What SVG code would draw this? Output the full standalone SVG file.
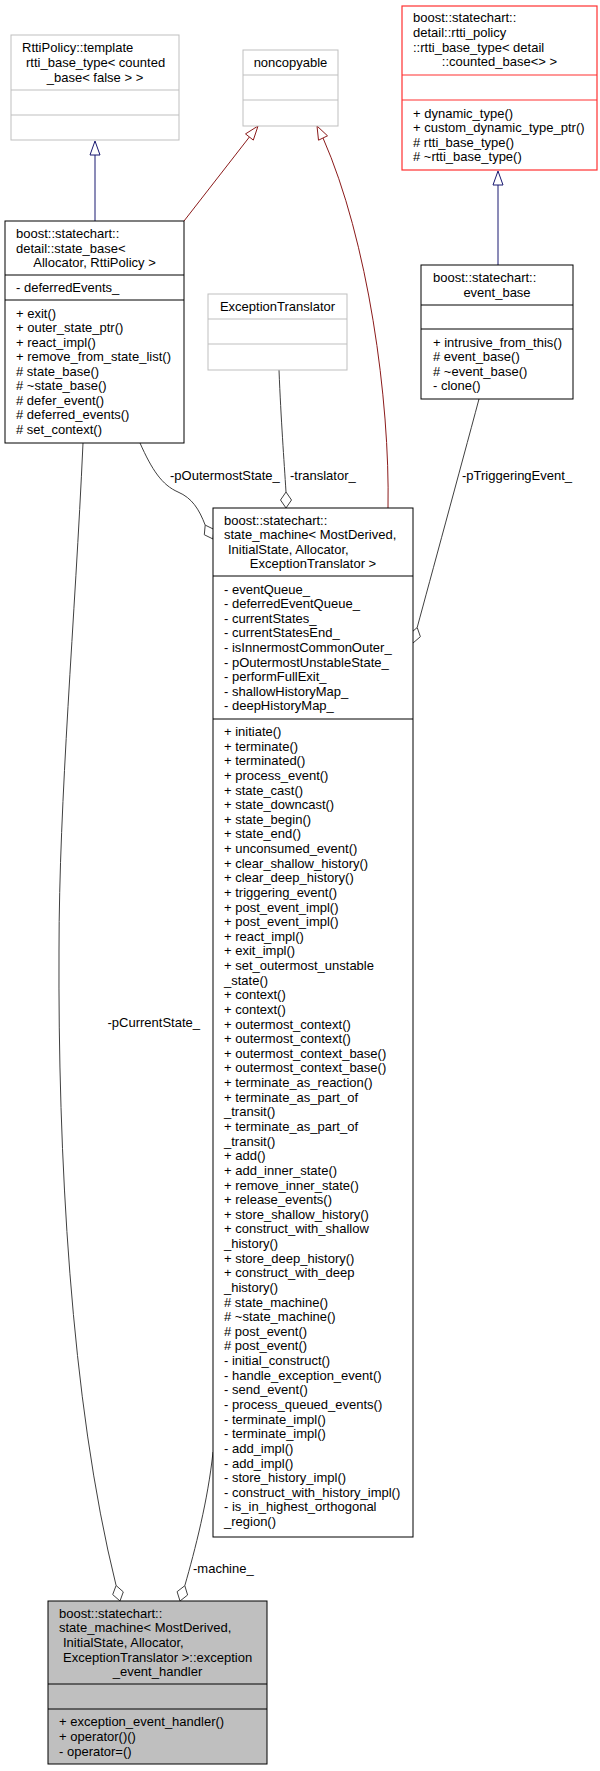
<svg xmlns="http://www.w3.org/2000/svg" width="600" height="1771" viewBox="0 0 600 1771">
<style>
text{font-family:"Liberation Sans",Arial,Helvetica,sans-serif;font-size:13px;fill:#000}
.c{text-anchor:middle}
.box{fill:#fff;stroke:#000;stroke-width:1}
.gbox{fill:#fff;stroke:#bfbfbf;stroke-width:1}
.rbox{fill:#fff;stroke:#ff3030;stroke-width:1.2}
.cur{fill:#bfbfbf;stroke:#000;stroke-width:1}
.sep{stroke:#000;stroke-width:1}
.gsep{stroke:#bfbfbf;stroke-width:1}
.rsep{stroke:#ff3030;stroke-width:1.2}
.assoc{fill:none;stroke:#404040;stroke-width:1}
.dia{fill:#fff;stroke:#404040;stroke-width:1}
.inhB{fill:none;stroke:#191970;stroke-width:1}
.inhR{fill:none;stroke:#8b1a1a;stroke-width:1}
.headB{fill:#fff;stroke:#191970;stroke-width:1}
.headR{fill:#fff;stroke:#8b1a1a;stroke-width:1}
</style>

<g id="connectors">
  <!-- inheritance -->
  <path class="inhB" d="M95,155 L95,221"/>
  <polygon class="headB" points="95,141 100,155 90,155"/>
  <path class="inhB" d="M498,185 L498,265"/>
  <polygon class="headB" points="498,171 503,185 493,185"/>
  <path class="inhR" d="M184,221 L249.4,137"/>
  <polygon class="headR" points="258,126 253.3,140.1 245.5,133.9"/>
  <path class="inhR" d="M388,508 C390,400 368,240 323,138"/>
  <polygon class="headR" points="317,126 327.5,135.8 318.5,140.2"/>
  <!-- associations -->
  <path class="assoc" d="M83,443 C75,620 59,800 59,950 C58,1150 70,1400 116.1,1585.5"/>
  <polygon class="dia" points="116.1,1585.5 123.3,1591.9 120,1601 112.7,1594.6"/>
  <path class="assoc" d="M213,1452 C208,1500 195,1550 184.8,1585.7"/>
  <polygon class="dia" points="184.8,1585.7 187.6,1595 180,1601 177.1,1591.7"/>
  <path class="assoc" d="M279,370 C281,420 284,460 286,492"/>
  <polygon class="dia" points="286,492 291.5,500 286,508 280.5,500"/>
  <path class="assoc" d="M140,443 C152,470 162,485 178,492 C192,498 199,509 205.2,525.1"/>
  <polygon class="dia" points="205.2,525.1 204.3,534.75 213,539 213.9,529.35"/>
  <path class="assoc" d="M479,399 C460,470 430,580 417.2,627.5"/>
  <polygon class="dia" points="417.2,627.5 420.4,636.7 413,643 409.8,633.9"/>
  <!-- labels -->
  <text x="170" y="479.5">-pOutermostState_</text>
  <text x="290" y="479.5">-translator_</text>
  <text x="462" y="479.5">-pTriggeringEvent_</text>
  <text x="200" y="1026.5" text-anchor="end">-pCurrentState_</text>
  <text x="193" y="1572.5">-machine_</text>
</g>

<g id="rttipolicy_base">
  <rect class="gbox" x="11" y="35" width="168" height="105"/>
  <line class="gsep" x1="11" y1="90" x2="179" y2="90"/>
  <line class="gsep" x1="11" y1="115" x2="179" y2="115"/>
  <text x="22" y="52.4">RttiPolicy::template</text>
  <text x="26" y="67">rtti_base_type&lt; counted</text>
  <text x="95" y="81.6" class="c">_base&lt; false &gt; &gt;</text>
</g>

<g id="noncopyable">
  <rect class="gbox" x="243" y="50" width="95" height="76"/>
  <line class="gsep" x1="243" y1="75" x2="338" y2="75"/>
  <line class="gsep" x1="243" y1="100" x2="338" y2="100"/>
  <text x="290.5" y="67" class="c">noncopyable</text>
</g>

<g id="rtti_base_type">
  <rect class="rbox" x="402" y="6" width="195" height="164"/>
  <line class="rsep" x1="402" y1="75" x2="597" y2="75"/>
  <line class="rsep" x1="402" y1="100" x2="597" y2="100"/>
  <text x="413" y="22.3">boost::statechart::</text>
  <text x="413" y="36.9">detail::rtti_policy</text>
  <text x="413" y="51.5">::rtti_base_type&lt; detail</text>
  <text x="499.5" y="66.1" class="c">::counted_base&lt;&gt; &gt;</text>
  <text x="413" y="117.6">+ dynamic_type()</text>
  <text x="413" y="132.2">+ custom_dynamic_type_ptr()</text>
  <text x="413" y="146.8"># rtti_base_type()</text>
  <text x="413" y="161.4"># ~rtti_base_type()</text>
</g>

<g id="state_base">
  <rect class="box" x="5" y="221" width="179" height="222"/>
  <line class="sep" x1="5" y1="275" x2="184" y2="275"/>
  <line class="sep" x1="5" y1="300" x2="184" y2="300"/>
  <text x="16" y="238">boost::statechart::</text>
  <text x="16" y="252.5">detail::state_base&lt;</text>
  <text x="94.5" y="267" class="c">Allocator, RttiPolicy &gt;</text>
  <text x="16" y="292">- deferredEvents_</text>
  <text x="16" y="317.6">+ exit()<tspan x="16" dy="14.5">+ outer_state_ptr()</tspan><tspan x="16" dy="14.5">+ react_impl()</tspan><tspan x="16" dy="14.5">+ remove_from_state_list()</tspan><tspan x="16" dy="14.5"># state_base()</tspan><tspan x="16" dy="14.5"># ~state_base()</tspan><tspan x="16" dy="14.5"># defer_event()</tspan><tspan x="16" dy="14.5"># deferred_events()</tspan><tspan x="16" dy="14.5"># set_context()</tspan></text>
</g>

<g id="exception_translator">
  <rect class="gbox" x="208" y="294" width="139" height="76"/>
  <line class="gsep" x1="208" y1="319" x2="347" y2="319"/>
  <line class="gsep" x1="208" y1="344" x2="347" y2="344"/>
  <text x="277.5" y="311" class="c">ExceptionTranslator</text>
</g>

<g id="event_base">
  <rect class="box" x="421" y="265" width="152" height="134"/>
  <line class="sep" x1="421" y1="305" x2="573" y2="305"/>
  <line class="sep" x1="421" y1="329" x2="573" y2="329"/>
  <text x="433" y="282.2">boost::statechart::</text>
  <text x="497" y="296.8" class="c">event_base</text>
  <text x="433" y="346.6">+ intrusive_from_this()<tspan x="433" dy="14.6"># event_base()</tspan><tspan x="433" dy="14.6"># ~event_base()</tspan><tspan x="433" dy="14.6">- clone()</tspan></text>
</g>

<g id="state_machine">
  <rect class="box" x="213" y="508" width="200" height="1029"/>
  <line class="sep" x1="213" y1="576" x2="413" y2="576"/>
  <line class="sep" x1="213" y1="719" x2="413" y2="719"/>
  <text x="224" y="524.6">boost::statechart::</text>
  <text x="224" y="539.2">state_machine&lt; MostDerived,</text>
  <text x="228" y="553.8">InitialState, Allocator,</text>
  <text x="313" y="568.4" class="c">ExceptionTranslator &gt;</text>
  <text x="224" y="593.6">- eventQueue_<tspan x="224" dy="14.6">- deferredEventQueue_</tspan><tspan x="224" dy="14.6">- currentStates_</tspan><tspan x="224" dy="14.6">- currentStatesEnd_</tspan><tspan x="224" dy="14.6">- isInnermostCommonOuter_</tspan><tspan x="224" dy="14.6">- pOutermostUnstableState_</tspan><tspan x="224" dy="14.6">- performFullExit_</tspan><tspan x="224" dy="14.6">- shallowHistoryMap_</tspan><tspan x="224" dy="14.6">- deepHistoryMap_</tspan></text>
  <text x="224" y="736">+ initiate()<tspan x="224" dy="14.63">+ terminate()</tspan><tspan x="224" dy="14.63">+ terminated()</tspan><tspan x="224" dy="14.63">+ process_event()</tspan><tspan x="224" dy="14.63">+ state_cast()</tspan><tspan x="224" dy="14.63">+ state_downcast()</tspan><tspan x="224" dy="14.63">+ state_begin()</tspan><tspan x="224" dy="14.63">+ state_end()</tspan><tspan x="224" dy="14.63">+ unconsumed_event()</tspan><tspan x="224" dy="14.63">+ clear_shallow_history()</tspan><tspan x="224" dy="14.63">+ clear_deep_history()</tspan><tspan x="224" dy="14.63">+ triggering_event()</tspan><tspan x="224" dy="14.63">+ post_event_impl()</tspan><tspan x="224" dy="14.63">+ post_event_impl()</tspan><tspan x="224" dy="14.63">+ react_impl()</tspan><tspan x="224" dy="14.63">+ exit_impl()</tspan><tspan x="224" dy="14.63">+ set_outermost_unstable</tspan><tspan x="224" dy="14.63">_state()</tspan><tspan x="224" dy="14.63">+ context()</tspan><tspan x="224" dy="14.63">+ context()</tspan><tspan x="224" dy="14.63">+ outermost_context()</tspan><tspan x="224" dy="14.63">+ outermost_context()</tspan><tspan x="224" dy="14.63">+ outermost_context_base()</tspan><tspan x="224" dy="14.63">+ outermost_context_base()</tspan><tspan x="224" dy="14.63">+ terminate_as_reaction()</tspan><tspan x="224" dy="14.63">+ terminate_as_part_of</tspan><tspan x="224" dy="14.63">_transit()</tspan><tspan x="224" dy="14.63">+ terminate_as_part_of</tspan><tspan x="224" dy="14.63">_transit()</tspan><tspan x="224" dy="14.63">+ add()</tspan><tspan x="224" dy="14.63">+ add_inner_state()</tspan><tspan x="224" dy="14.63">+ remove_inner_state()</tspan><tspan x="224" dy="14.63">+ release_events()</tspan><tspan x="224" dy="14.63">+ store_shallow_history()</tspan><tspan x="224" dy="14.63">+ construct_with_shallow</tspan><tspan x="224" dy="14.63">_history()</tspan><tspan x="224" dy="14.63">+ store_deep_history()</tspan><tspan x="224" dy="14.63">+ construct_with_deep</tspan><tspan x="224" dy="14.63">_history()</tspan><tspan x="224" dy="14.63"># state_machine()</tspan><tspan x="224" dy="14.63"># ~state_machine()</tspan><tspan x="224" dy="14.63"># post_event()</tspan><tspan x="224" dy="14.63"># post_event()</tspan><tspan x="224" dy="14.63">- initial_construct()</tspan><tspan x="224" dy="14.63">- handle_exception_event()</tspan><tspan x="224" dy="14.63">- send_event()</tspan><tspan x="224" dy="14.63">- process_queued_events()</tspan><tspan x="224" dy="14.63">- terminate_impl()</tspan><tspan x="224" dy="14.63">- terminate_impl()</tspan><tspan x="224" dy="14.63">- add_impl()</tspan><tspan x="224" dy="14.63">- add_impl()</tspan><tspan x="224" dy="14.63">- store_history_impl()</tspan><tspan x="224" dy="14.63">- construct_with_history_impl()</tspan><tspan x="224" dy="14.63">- is_in_highest_orthogonal</tspan><tspan x="224" dy="14.63">_region()</tspan></text>
</g>

<g id="exception_event_handler">
  <rect class="cur" x="48" y="1601" width="219" height="163"/>
  <line class="sep" x1="48" y1="1684" x2="267" y2="1684"/>
  <line class="sep" x1="48" y1="1709" x2="267" y2="1709"/>
  <text x="59" y="1617.8">boost::statechart::</text>
  <text x="59" y="1632.4">state_machine&lt; MostDerived,</text>
  <text x="63" y="1647">InitialState, Allocator,</text>
  <text x="63" y="1661.6">ExceptionTranslator &gt;::exception</text>
  <text x="157.5" y="1676.2" class="c">_event_handler</text>
  <text x="59" y="1726.4">+ exception_event_handler()<tspan x="59" dy="14.6">+ operator()()</tspan><tspan x="59" dy="14.6">- operator=()</tspan></text>
</g>
</svg>
